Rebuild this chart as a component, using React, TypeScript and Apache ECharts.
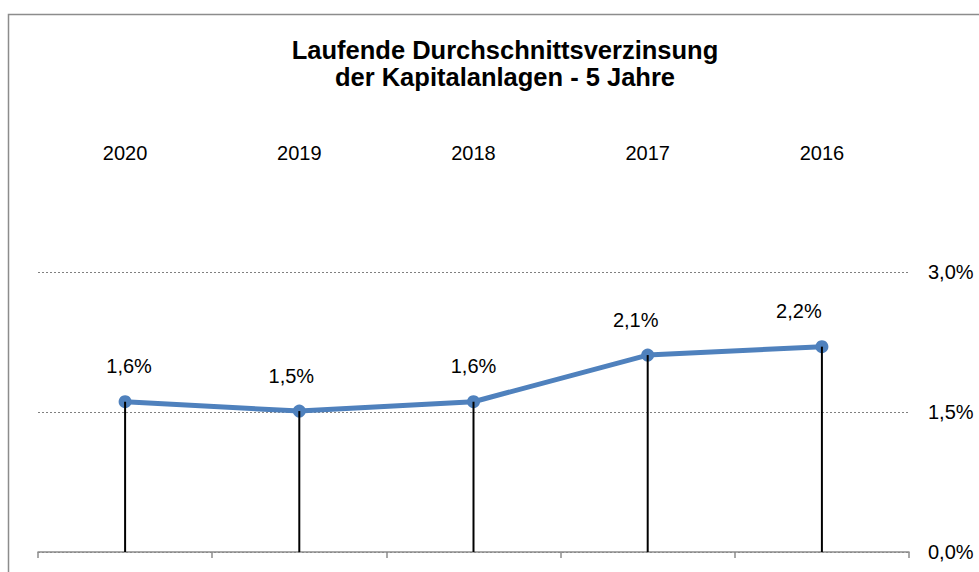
import React, { useEffect, useRef } from "react";
import * as echarts from "echarts";

const titleLines = ["Laufende Durchschnittsverzinsung", "der Kapitalanlagen - 5 Jahre"];
const years = ["2020", "2019", "2018", "2017", "2016"];
const yields = [1.61, 1.51, 1.61, 2.11, 2.2];
const yTicks = { min: 0, max: 3, interval: 1.5 };
const labelShiftX = [4, -8, 0, -12, -23];

const FONT = "'Liberation Sans', Arial, sans-serif";
const fmt = (v: number) => v.toFixed(1).replace(".", ",") + "%";

export default function App() {
  const ref = useRef<HTMLDivElement>(null);
  useEffect(() => {
    if (!ref.current) return;
    const chart = echarts.init(ref.current, undefined, { renderer: "svg" });
    chart.setOption({
      animation: false,
      backgroundColor: "#ffffff",
      textStyle: { fontFamily: FONT },
      title: {
        text: titleLines.join("\n"),
        left: 500,
        top: 31,
        textAlign: "center",
        textStyle: {
          fontFamily: FONT,
          fontSize: 25.5,
          fontWeight: "bold",
          color: "#000000",
          lineHeight: 27.5,
        },
      },
      graphic: [
        {
          type: "rect",
          shape: { x: 8.5, y: 14.5, width: 1100, height: 700 },
          style: { fill: "none", stroke: "#8c8c8c", lineWidth: 1.5 },
          silent: true,
          z: -10,
        },
      ],
      grid: { left: 38, right: 70, top: 272, bottom: 20, containLabel: false },
      xAxis: [
        {
          type: "category",
          data: years,
          position: "bottom",
          boundaryGap: true,
          axisLine: { show: true, lineStyle: { color: "#8c8c8c", width: 1.5 } },
          axisTick: { show: true, length: 6, lineStyle: { color: "#8c8c8c", width: 1.5 } },
          axisLabel: { show: false },
          splitLine: { show: false },
        },
        {
          type: "category",
          data: years,
          position: "top",
          boundaryGap: true,
          axisLine: { show: false },
          axisTick: { show: false },
          axisLabel: { show: true, margin: 109, fontSize: 20, color: "#000000", fontFamily: FONT },
          splitLine: { show: false },
        },
      ],
      yAxis: {
        type: "value",
        position: "right",
        min: yTicks.min,
        max: yTicks.max,
        interval: yTicks.interval,
        axisLine: { show: false },
        axisTick: { show: false },
        axisLabel: {
          margin: 19,
          fontSize: 20,
          color: "#000000",
          fontFamily: FONT,
          formatter: (v: number) => fmt(v),
        },
        splitLine: {
          show: true,
          lineStyle: { color: "#808080", type: [2, 2], width: 1 },
        },
      },
      series: [
        {
          type: "line",
          data: yields.map((v, i) => ({
            value: v,
            label: { offset: [labelShiftX[i], 0] },
          })),
          xAxisIndex: 0,
          symbol: "circle",
          symbolSize: 13,
          lineStyle: { color: "#4F81BD", width: 5 },
          itemStyle: { color: "#4F81BD" },
          label: {
            show: true,
            position: "top",
            distance: 19,
            fontSize: 20,
            color: "#000000",
            fontFamily: FONT,
            formatter: (p: any) => fmt(p.value),
          },
          z: 2,
        },
        {
          type: "bar",
          data: yields,
          xAxisIndex: 0,
          barWidth: 2,
          itemStyle: { color: "#000000" },
          z: 3,
        },
      ],
    });
    return () => chart.dispose();
  }, []);
  return (
    <div
      ref={ref}
      style={{ position: "fixed", left: 0, top: 0, width: 979, height: 572 }}
    />
  );
}
